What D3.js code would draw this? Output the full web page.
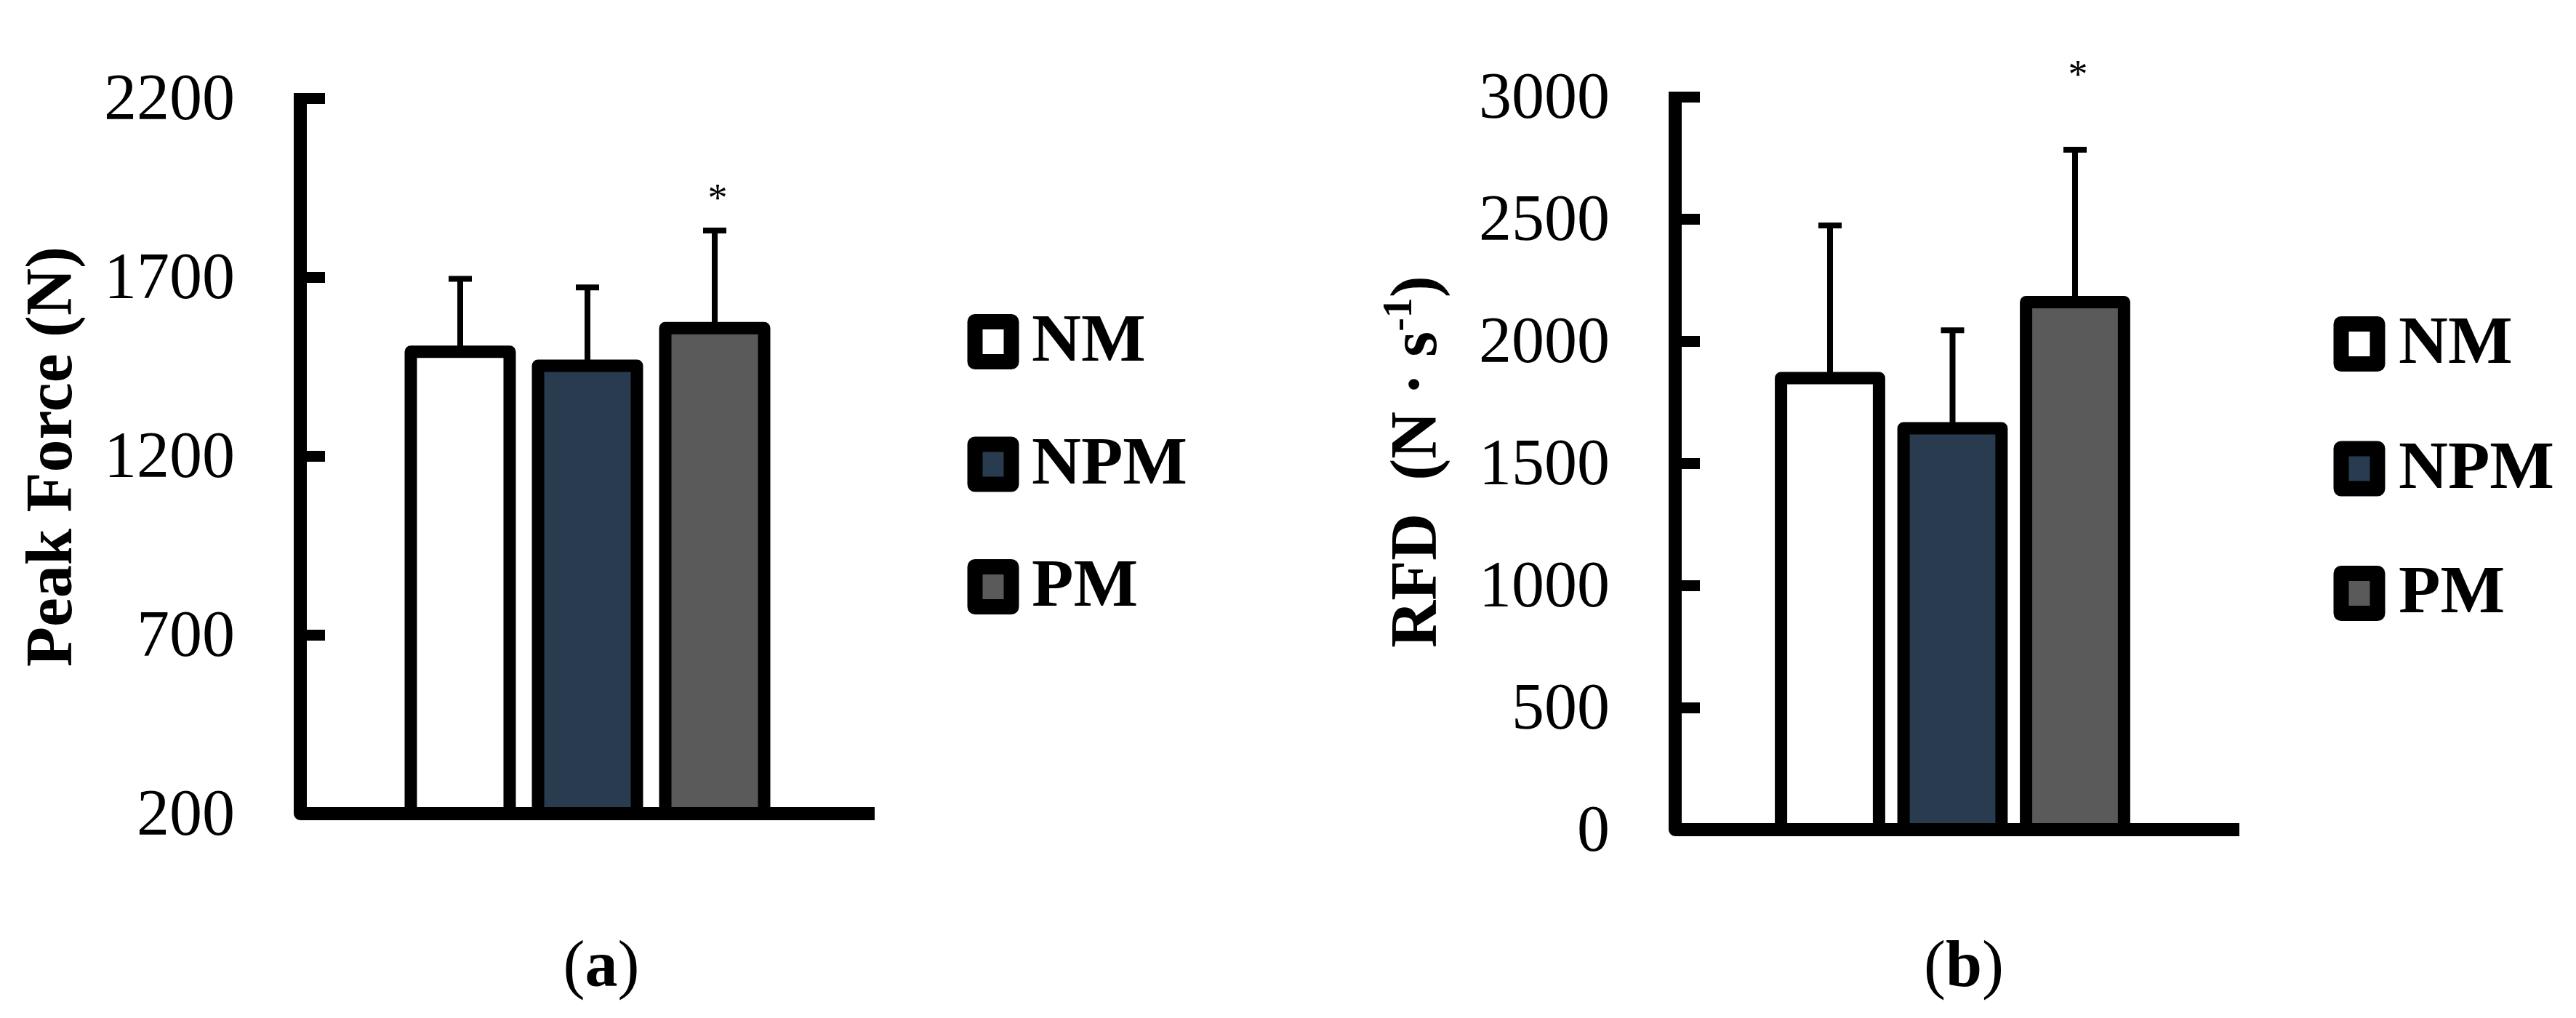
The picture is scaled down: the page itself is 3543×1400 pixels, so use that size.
<!DOCTYPE html>
<html>
<head>
<meta charset="utf-8">
<script src="https://cdn.jsdelivr.net/npm/d3@7"></script>
<style>
  html, body { margin: 0; padding: 0; background: #fff; }
  svg { display: block; font-family: "Palatino Linotype", "Book Antiqua", Palatino, "Liberation Serif", serif; }
</style>
</head>
<body>
<svg id="chart" width="3543" height="1400"></svg>
<script>
// Data
const categories = ['NM', 'NPM', 'PM'];
const fills = ['#ffffff', '#293b4f', '#5a5a5a'];

const peakForce = [1491, 1452, 1557];
const peakForceSD = [204, 219, 273];
const peakTicks = [200, 700, 1200, 1700, 2200];

const rfd = [1848, 1643, 2159];
const rfdSD = [625, 401, 624];
const rfdTicks = [0, 500, 1000, 1500, 2000, 2500, 3000];

// '*' = significant, placed at this value above the bar
const peakStar = [null, null, 1940];
const rfdStar = [null, null, 3120];

const svg = d3.select('#chart');

const panels = [
  {
    values: peakForce, sd: peakForceSD, ticks: peakTicks, star: peakStar,
    axisX: 413, yTop: 135, yBottom: 1119, xEnd: 1203,
    band: [545.5, 1070.5], pad: 0.223,
    legend: { boxX: 1366, y0: 470, step: 168.5, textX: 1419 },
    tag: { x: 827, text: 'a' }
  },
  {
    values: rfd, sd: rfdSD, ticks: rfdTicks, star: rfdStar,
    axisX: 2304, yTop: 133, yBottom: 1141, xEnd: 3080,
    band: [2432.75, 2938.25], pad: 0.2,
    legend: { boxX: 3245, y0: 473, step: 171.5, textX: 3299 },
    tag: { x: 2701, text: 'b' }
  }
];

panels.forEach((p, pi) => {
  const g = svg.append('g');

  const y = d3.scaleLinear()
    .domain(d3.extent(p.ticks))
    .range([p.yBottom, p.yTop]);

  const x = d3.scaleBand()
    .domain(categories)
    .range(p.band)
    .paddingInner(p.pad)
    .paddingOuter(p.pad / 2);

  // y axis ticks and labels
  const axis = g.append('g')
    .attr('transform', `translate(${p.axisX},0)`)
    .call(d3.axisLeft(y)
      .tickValues(p.ticks)
      .tickFormat(d3.format('d'))
      .tickSizeInner(-34)
      .tickSizeOuter(0)
      .tickPadding(90))
    .attr('font-family', null)
    .attr('font-size', null);
  axis.select('.domain').remove();
  axis.selectAll('.tick line')
    .attr('stroke', '#000')
    .attr('stroke-width', 15);
  axis.selectAll('.tick text')
    .attr('fill', '#000')
    .style('font-size', '90px');

  // error bars (drawn first so the bar outline covers the base)
  const err = g.append('g').selectAll('g')
    .data(categories)
    .join('g');
  err.append('line')
    .attr('x1', d => x(d) + x.bandwidth() / 2)
    .attr('x2', d => x(d) + x.bandwidth() / 2)
    .attr('y1', (d, i) => y(p.values[i]))
    .attr('y2', (d, i) => y(p.values[i] + p.sd[i]))
    .attr('stroke', '#000')
    .attr('stroke-width', 8);
  err.append('line')
    .attr('x1', d => x(d) + x.bandwidth() / 2 - 16)
    .attr('x2', d => x(d) + x.bandwidth() / 2 + 16)
    .attr('y1', (d, i) => y(p.values[i] + p.sd[i]))
    .attr('y2', (d, i) => y(p.values[i] + p.sd[i]))
    .attr('stroke', '#000')
    .attr('stroke-width', 8);

  // bars
  g.append('g').selectAll('rect')
    .data(categories)
    .join('rect')
    .attr('x', d => x(d))
    .attr('y', (d, i) => y(p.values[i]))
    .attr('width', x.bandwidth())
    .attr('height', (d, i) => p.yBottom - y(p.values[i]))
    .attr('fill', (d, i) => fills[i])
    .attr('stroke', '#000')
    .attr('stroke-width', 17)
    .attr('stroke-linejoin', 'round');

  // axis lines
  g.append('path')
    .attr('d', `M${p.axisX},${p.yTop - 7}V${p.yBottom}H${p.xEnd}`)
    .attr('fill', 'none')
    .attr('stroke', '#000')
    .attr('stroke-width', 18)
    .attr('stroke-linejoin', 'round');

  // significance marks
  g.append('g').selectAll('text')
    .data(categories.filter((d, i) => p.star[i] != null))
    .join('text')
    .attr('x', d => x(d) + x.bandwidth() / 2 + 4)
    .attr('y', d => y(p.star[categories.indexOf(d)]))
    .attr('dy', '0.5em')
    .attr('text-anchor', 'middle')
    .style('font-size', '54px')
    .text('*');

  // legend
  const lg = g.append('g').selectAll('g')
    .data(categories)
    .join('g')
    .attr('transform', (d, i) => `translate(0,${p.legend.y0 + i * p.legend.step})`);
  lg.append('rect')
    .attr('x', p.legend.boxX - 25)
    .attr('y', -27.5)
    .attr('width', 50)
    .attr('height', 55)
    .attr('fill', (d, i) => fills[i])
    .attr('stroke', '#000')
    .attr('stroke-width', 21)
    .attr('stroke-linejoin', 'round');
  lg.append('text')
    .attr('x', p.legend.textX)
    .attr('y', 26)
    .style('font-size', '94px')
    .style('font-weight', 'bold')
    .text(d => d);

  // panel tag
  const tag = g.append('text')
    .attr('x', p.tag.x)
    .attr('y', 1356)
    .attr('text-anchor', 'middle')
    .style('font-size', '90px');
  tag.append('tspan').text('(');
  tag.append('tspan').style('font-weight', 'bold').text(p.tag.text);
  tag.append('tspan').text(')');
});

// y axis titles
svg.append('text')
  .attr('transform', 'translate(98,628) rotate(-90)')
  .attr('text-anchor', 'middle')
  .style('font-size', '90px')
  .style('font-weight', 'bold')
  .text('Peak Force (N)');

const rt = svg.append('text')
  .attr('transform', 'translate(1975,635) rotate(-90)')
  .attr('text-anchor', 'middle')
  .style('font-size', '90px')
  .style('font-weight', 'bold')
  .style('white-space', 'pre');
rt.append('tspan').text('RFD  (N · s');
rt.append('tspan').attr('dy', -34).style('font-size', '56px').text('-1');
rt.append('tspan').attr('dy', 34).text(')');
</script>
</body>
</html>
